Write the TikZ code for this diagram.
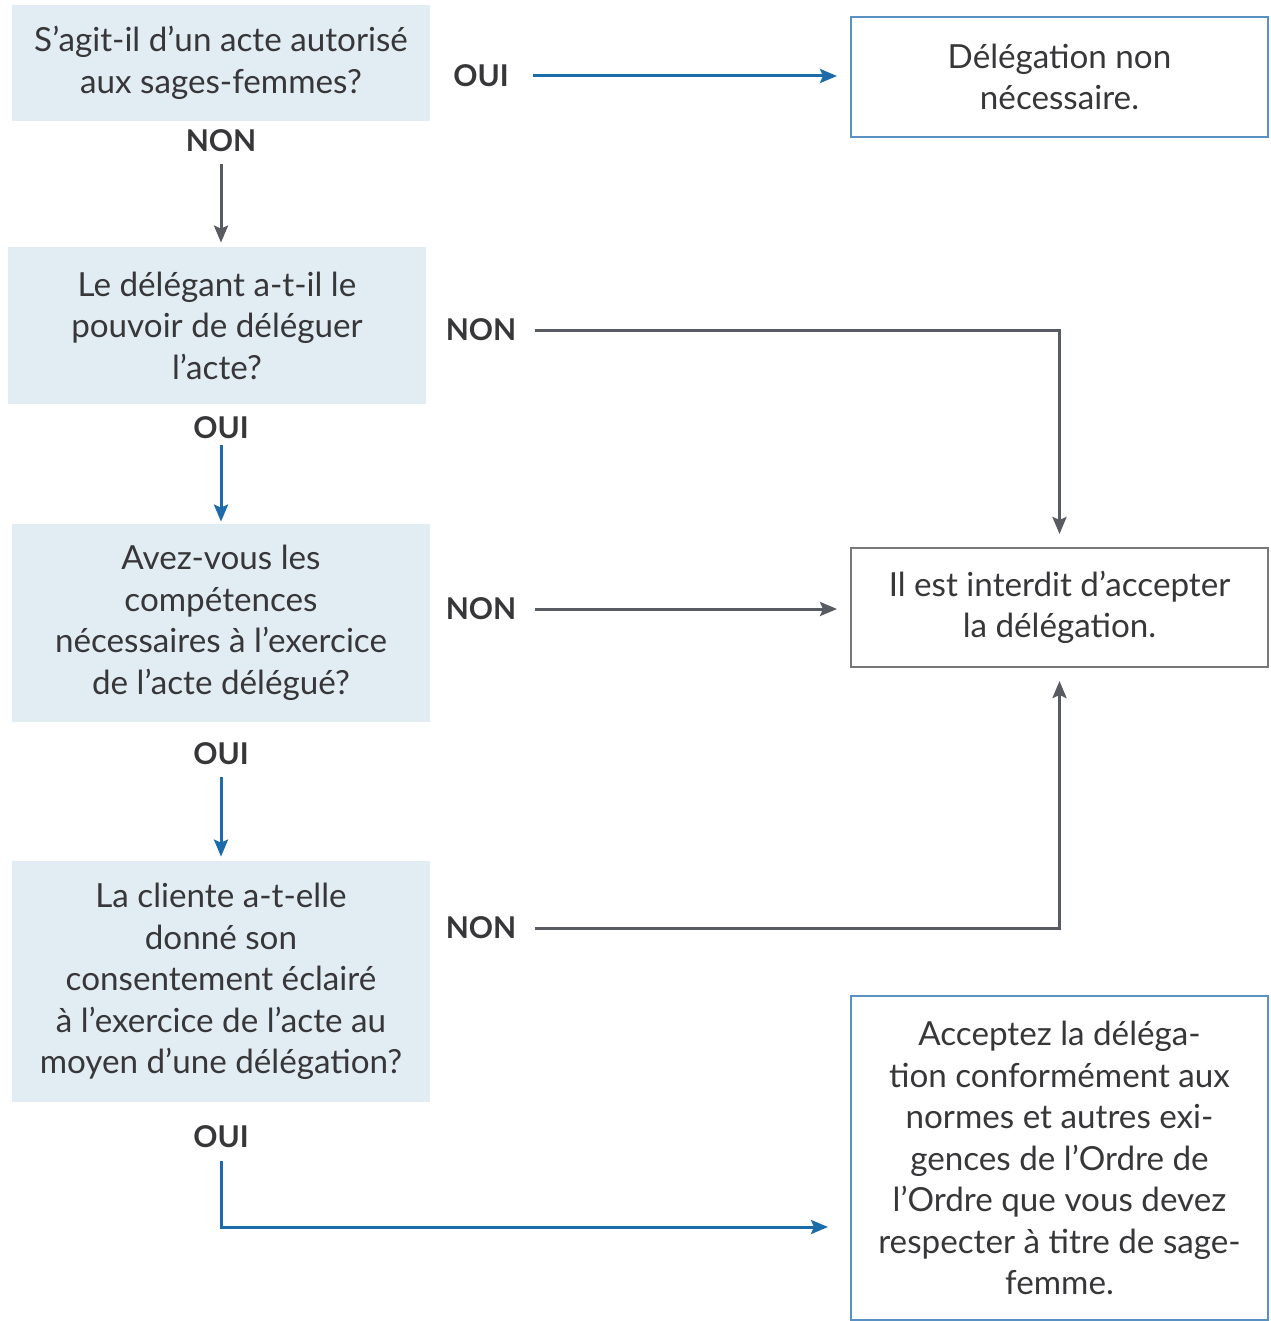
\documentclass[tikz,border=0pt]{standalone}
\usepackage{fontspec}
\setmainfont{Lato}
\usepackage{xcolor}
\usetikzlibrary{arrows.meta}
\definecolor{qfill}{RGB}{226,236,243}
\definecolor{txt}{RGB}{55,55,58}
\definecolor{flowblue}{RGB}{28,108,172}
\definecolor{flowgray}{RGB}{88,92,98}
\definecolor{boxblue}{RGB}{90,145,195}
\definecolor{boxgray}{RGB}{120,120,120}

\begin{document}
\begin{tikzpicture}[x=0.5pt, y=-0.5pt,
  every node/.style={inner sep=0pt, text=txt},
  question/.style={fill=qfill, minimum width=209pt, align=center,
                   font=\fontsize{16.6}{20.75}\selectfont},
  result/.style={draw, line width=1pt, minimum width=208.5pt, align=center,
                 font=\fontsize{16.6}{20.75}\selectfont},
  lbl/.style={font=\fontsize{15}{16}\selectfont\bfseries},
  arrow/.style={-{Stealth[length=8.5pt, width=7pt, inset=1.5pt]},
                flowgray, line width=1.5pt},
  bluearrow/.style={arrow, flowblue}]
\fill[white] (0,0) rectangle (1270,1321);
\useasboundingbox (0,0) rectangle (1270,1321);

% questions
\node[question, minimum height=58pt] (q1) at (221,63)
  {S’agit-il d’un acte autorisé\\aux sages-femmes?};
\node[question, minimum height=78.5pt] (q2) at (217,325.5)
  {Le délégant a-t-il le\\pouvoir de déléguer\\l’acte?};
\node[question, minimum height=99pt] (q3) at (221,623)
  {Avez-vous les\\compétences\\nécessaires à l’exercice\\de l’acte délégué?};
\node[question, minimum height=120.5pt] (q4) at (221,981.5)
  {La cliente a-t-elle\\donné son\\consentement éclairé\\à l’exercice de l’acte au\\moyen d’une délégation?};

% results
\node[result, draw=boxblue, minimum height=60pt] (r1) at (1059.5,77)
  {Délégation non\\nécessaire.};
\node[result, draw=boxgray, minimum height=59.5pt] (r2) at (1059.5,607.5)
  {Il est interdit d’accepter\\la délégation.};
\node[result, draw=boxblue, minimum height=162pt] (r3) at (1059.5,1158)
  {Acceptez la déléga-\\tion conformément aux\\normes et autres exi-\\gences de l’Ordre de\\l’Ordre que vous devez\\respecter à titre de sage-\\femme.};
\coordinate (r3in) at (851,1227);

% answers
\node[lbl] (q1oui) at (481,76) {OUI};
\node[lbl] (q1non) at (221,141) {NON};
\node[lbl] (q2non) at (481,330) {NON};
\node[lbl] (q2oui) at (221,428) {OUI};
\node[lbl] (q3non) at (481,609) {NON};
\node[lbl] (q3oui) at (221,754) {OUI};
\node[lbl] (q4non) at (481,928) {NON};
\node[lbl] (q4oui) at (221,1137) {OUI};

% connectors
\draw[bluearrow, shorten <=12pt, shorten >=6.5pt] (q1oui.east) -- (q1oui.east -| r1.west);
\draw[arrow, shorten <=6pt, shorten >=2pt] (q1non.south) -- (q1non.south |- q2.north);
\draw[arrow, shorten <=9pt, shorten >=6.5pt] (q2non.east) -| (r2.north);
\draw[bluearrow, shorten <=3pt, shorten >=1pt] (q2oui.south) -- (q3.north);
\draw[arrow, shorten <=9pt, shorten >=6.5pt] (q3non.east) -- (q3non.east -| r2.west);
\draw[bluearrow, shorten <=6pt, shorten >=2pt] (q3oui.south) -- (q4.north);
\draw[arrow, shorten <=9pt, shorten >=6.5pt] (q4non.east) -| (r2.south);
\draw[bluearrow, shorten <=6pt, shorten >=11.5pt] (q4oui.south) |- (r3in);
\end{tikzpicture}
\end{document}
